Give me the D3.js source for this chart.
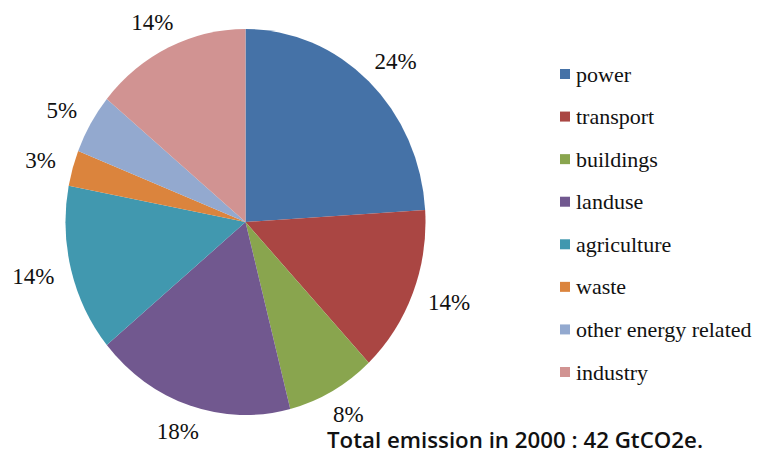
<html><head>
<style>
body { margin: 0; padding: 0; background: white; }
svg { display: block; }
.serif { font-family: "Liberation Serif", "Times New Roman", Tinos, "DejaVu Serif", "Noto Serif", serif; }
</style>
</head>
<body>
<svg id="chart" width="764" height="455"></svg>
<script src="https://d3js.org/d3.v7.min.js"></script>
<script>
const sectors = ["power", "transport", "buildings", "landuse", "agriculture", "waste", "other energy related", "industry"];
const shares = [24, 14, 8, 18, 14, 3, 5, 14];
const colors = ["#4572A7", "#AA4643", "#89A54E", "#71588F", "#4198AF", "#DB843D", "#93A9CF", "#D19392"];
const note = "Total emission in 2000 : 42 GtCO2e.";

const svg = d3.select("#chart");
const cx = 245.5, cy = 222, rx = 180, ry = 193;

const pie = d3.pie().sort(null).value(d => d.v);
const arcs = pie(shares.map((v, i) => ({ v, name: sectors[i] })));
const arc = d3.arc().innerRadius(0).outerRadius(rx);

svg.append("g")
  .attr("transform", `translate(${cx},${cy}) scale(1,${ry / rx})`)
  .selectAll("path")
  .data(arcs)
  .join("path")
  .attr("d", arc)
  .attr("fill", (d, i) => colors[i]);

// percentage labels, outside the edge like excel does it
const gap = 18;
const labels = svg.append("g")
  .attr("class", "serif")
  .style("font-size", "23px")
  .attr("fill", "#111");

arcs.forEach(d => {
  const a = (d.startAngle + d.endAngle) / 2;
  const ux = Math.sin(a), uy = -Math.cos(a);
  const ex = cx + rx * ux, ey = cy + ry * uy;
  const t = labels.append("text")
    .attr("text-anchor", "middle")
    .attr("dominant-baseline", "central")
    .text(d.data.v + "%");
  const w = t.node().getComputedTextLength(), h = 18;
  t.attr("x", ex + gap * ux + ux * w / 2)
   .attr("y", ey + gap * uy + uy * h / 2);
});

// legend
const ly = d3.scalePoint().domain(sectors).range([74, 372]);
const legend = svg.append("g")
  .attr("class", "serif")
  .style("font-size", "22px");

const item = legend.selectAll("g")
  .data(sectors)
  .join("g")
  .attr("transform", d => `translate(560,${ly(d)})`);

item.append("rect")
  .attr("x", 0).attr("y", -5)
  .attr("width", 10).attr("height", 10)
  .attr("fill", (d, i) => colors[i]);

item.append("text")
  .attr("x", 16)
  .attr("y", 0)
  .attr("dominant-baseline", "central")
  .attr("fill", "#111")
  .text(d => d);

svg.append("text")
  .attr("x", 327)
  .attr("y", 448)
  .attr("textLength", 376)
  .attr("lengthAdjust", "spacingAndGlyphs")
  .style("font-family", "'Open Sans', 'Noto Sans', sans-serif")
  .style("font-size", "21px")
  .style("font-weight", "600")
  .attr("fill", "#111")
  .text(note);
</script>
</body>
</html>
